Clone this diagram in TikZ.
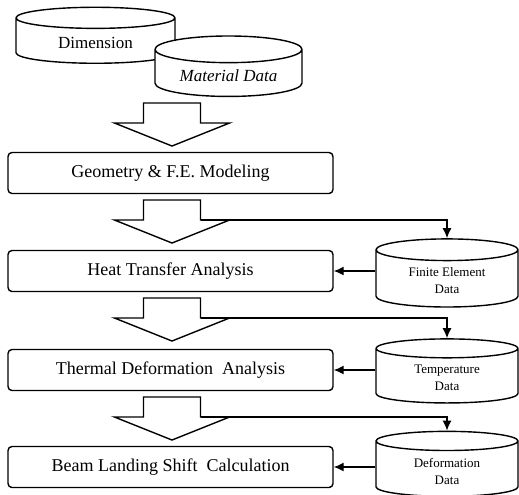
\documentclass[tikz,border=0pt]{standalone}
\usepackage{fontspec}
\setmainfont{Liberation Serif}
\usetikzlibrary{shapes,arrows.meta,positioning}

\tikzset{
  stepbox/.style={rectangle, draw, rounded corners=2pt, minimum width=162.5pt,
    minimum height=20.5pt, font=\fontsize{9}{11}\selectfont},
  datacyl/.style={cylinder, shape border rotate=90, draw, fill=white, aspect=0.24,
    align=center, minimum width=71pt, minimum height=28.5pt,
    font=\fontsize{6.5}{8.5}\selectfont},
  link/.style={-{Latex[length=5pt,width=4.5pt]}},
  pics/blockarrow/.style={code={
    \draw (-28.5,0) -- (28.5,0) -- (28.5,20) -- (57.5,20) -- (0,43)
      -- (-57.5,20) -- (-28.5,20) -- cycle;
    \coordinate (-sb) at (28.5,20);
  }}
}

\begin{document}
\begin{tikzpicture}[x=0.5pt, y=-0.5pt, line width=0.7pt]
    \useasboundingbox (0,0) rectangle (519,494);

    % Input data
    \node[datacyl, minimum width=79.5pt, minimum height=28pt, font=\fontsize{8.5}{10}\selectfont] (dim) at (95.5,43) {Dimension};
    \node[datacyl, minimum width=73.5pt, minimum height=30pt, font=\itshape\fontsize{8.5}{10}\selectfont] (mat) at (228.5,76) {Material Data};

    % Steps
    \node[stepbox] (geom) at (170.5,173) {Geometry \& F.E. Modeling};
    \node[stepbox] (heat) at (170.5,271) {Heat Transfer Analysis};
    \node[stepbox] (therm) at (170.5,370) {Thermal Deformation~ Analysis};
    \node[stepbox] (beam) at (170.5,467) {Beam Landing Shift~ Calculation};

    % Stored results
    \node[datacyl] (fe) at (447,281) {Finite Element\\Data};
    \node[datacyl] (temp) at (447,378) {Temperature\\Data};
    \node[datacyl] (defo) at (447,471) {Deformation\\Data};

    % Flow arrows
    \pic (a1) at (172,103) {blockarrow};
    \pic (a2) at (172,200) {blockarrow};
    \pic (a3) at (172,298) {blockarrow};
    \pic (a4) at (172,397) {blockarrow};

    % Data links
    \draw[link] (a2-sb) -| (fe.north);
    \draw[link] (a3-sb) -| (temp.north);
    \draw[link] (a4-sb) -| (defo.north);
    \draw[link] (fe.west |- heat) -- (heat.east);
    \draw[link] (temp.west |- therm) -- (therm.east);
    \draw[link] (defo.west |- beam) -- (beam.east);
\end{tikzpicture}
\end{document}
